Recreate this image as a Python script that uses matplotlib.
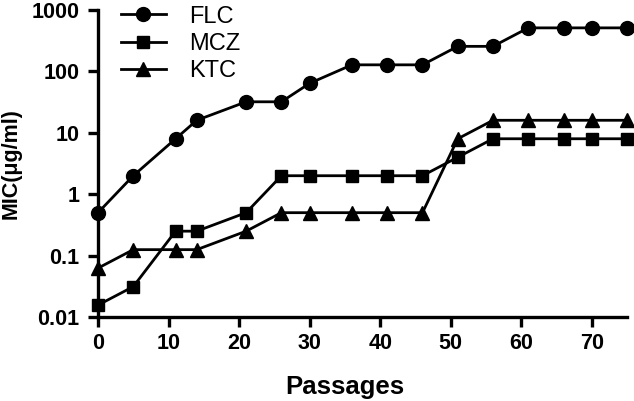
import matplotlib
matplotlib.use('Agg')
import matplotlib.pyplot as plt
from matplotlib.ticker import FixedLocator, FixedFormatter, NullLocator

# data
passages = [0, 5, 11, 14, 21, 26, 30, 36, 41, 46, 51, 56, 61, 66, 70, 75]
flc = [0.5, 2, 8, 16, 32, 32, 64, 128, 128, 128, 256, 256, 512, 512, 512, 512]
mcz = [0.015625, 0.03125, 0.25, 0.25, 0.5, 2, 2, 2, 2, 2, 4, 8, 8, 8, 8, 8]
ktc = [0.0625, 0.125, 0.125, 0.125, 0.25, 0.5, 0.5, 0.5, 0.5, 0.5, 8, 16, 16, 16, 16, 16]
yticks = [0.01, 0.1, 1, 10, 100, 1000]
ytick_labels = ['0.01', '0.1', '1', '10', '100', '1000']
xticks = [0, 10, 20, 30, 40, 50, 60, 70]

plt.rcParams['font.family'] = ['Liberation Sans', 'DejaVu Sans']

fig = plt.figure(figsize=(6.34, 4.01), dpi=100)
ax = fig.add_axes([0.1546, 0.2095, 0.8344, 0.7655])

ax.plot(passages, flc, color='black', lw=2, marker='o', ms=10, label='FLC', clip_on=False, zorder=3)
ax.plot(passages, mcz, color='black', lw=2, marker='s', ms=9, label='MCZ', clip_on=False, zorder=3)
ax.plot(passages, ktc, color='black', lw=2, marker='^', ms=10, label='KTC', clip_on=False, zorder=3)

ax.set_yscale('log')
ax.set_ylim(0.01, 1000)
ax.set_xlim(0, 75)
ax.yaxis.set_major_locator(FixedLocator(yticks))
ax.yaxis.set_major_formatter(FixedFormatter(ytick_labels))
ax.yaxis.set_minor_locator(NullLocator())
ax.set_xticks(xticks)

for s in ['top', 'right']:
    ax.spines[s].set_visible(False)
for s in ['left', 'bottom']:
    ax.spines[s].set_linewidth(2.4)

ax.tick_params(axis='both', which='major', length=7.5, width=2.4, direction='out', labelsize=15.5)
ax.tick_params(axis='y', pad=6)
ax.tick_params(axis='x', pad=4)
for lab in ax.get_xticklabels() + ax.get_yticklabels():
    lab.set_fontweight('bold')

ax.set_xlabel('Passages', fontsize=18.5, fontweight='bold', va='top')
ax.xaxis.set_label_coords(0.467, -0.19)
ax.set_ylabel('MIC(μg/ml)', fontsize=15.5, fontweight='bold')
ax.yaxis.set_label_coords(-0.145, 0.5)

ax.legend(loc='upper left', bbox_to_anchor=(0.025, 1.045), frameon=False, fontsize=17,
          handlelength=1.9, handletextpad=1.0, labelspacing=0.22, borderaxespad=0)

fig.savefig('out.png', dpi=100)
